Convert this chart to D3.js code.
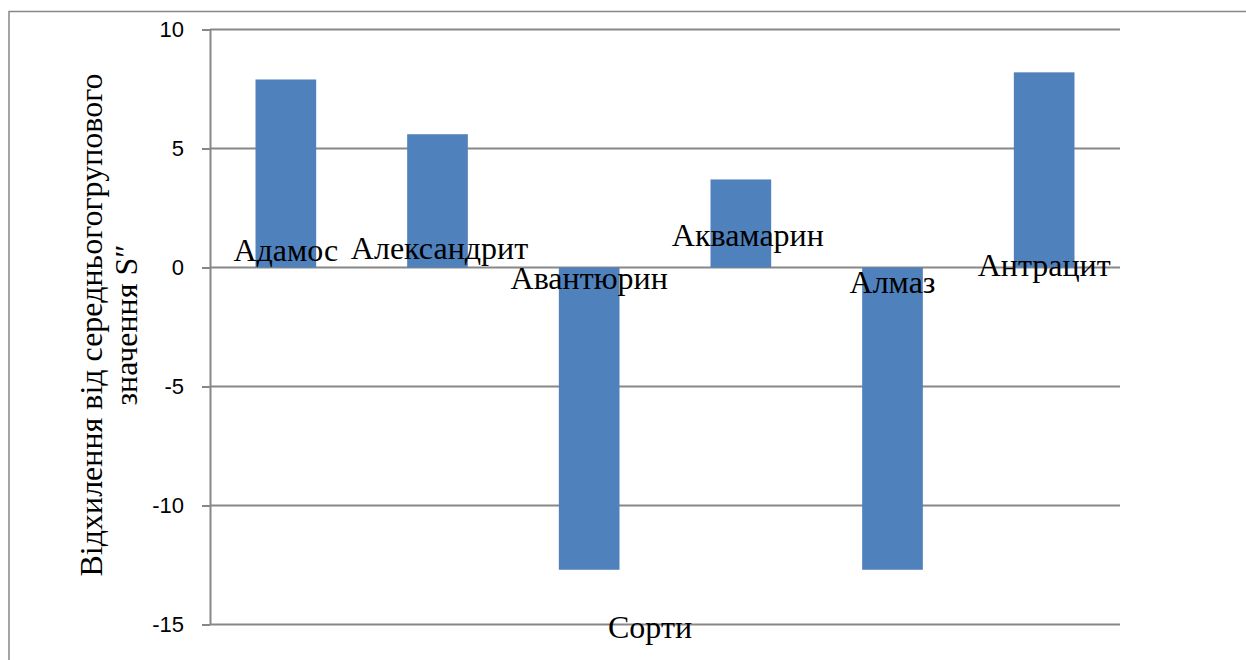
<!DOCTYPE html>
<html>
<head>
<meta charset="utf-8">
<script src="https://cdn.jsdelivr.net/npm/d3@7"></script>
<style>
  html, body { margin: 0; padding: 0; background: #fff; }
  svg { display: block; }
</style>
</head>
<body>
<svg id="chart" width="1246" height="660"></svg>
<script>
// ---- data ----
const categories = ["Адамос", "Александрит", "Авантюрин", "Аквамарин", "Алмаз", "Антрацит"];
const values = [7.9, 5.6, -12.7, 3.7, -12.7, 8.2];
const yTicks = [-15, -10, -5, 0, 5, 10];
const yTitleLines = ["Відхилення від середньогогрупового", "значення S″"];
const xTitle = "Сорти";

// ---- label nudges (styling) ----
const labelDx = [0, 2, 0, 7, 0, 0];
const labelDy = [-7, -9, 21, -22, 25, 8];

const svg = d3.select("#chart");
const plotL = 210, plotR = 1120, plotT = 29.5, plotB = 624.5;

const x = d3.scaleBand().domain(categories).range([plotL, plotR])
  .paddingInner(0.6).paddingOuter(0.3);
const y = d3.scaleLinear().domain([-15, 10]).range([plotB, plotT]);

const grey = "#878787";
const serif = "'Liberation Serif', 'Times New Roman', serif";

// outer frame
svg.append("rect").attr("x", 9).attr("y", 11.5).attr("width", 1300).attr("height", 700)
  .attr("fill", "none").attr("stroke", grey).attr("stroke-width", 1.5);

// gridlines
svg.append("g").selectAll("line").data(yTicks).join("line")
  .attr("x1", plotL).attr("x2", plotR)
  .attr("y1", d => y(d)).attr("y2", d => y(d))
  .attr("stroke", grey).attr("stroke-width", 2);

// y axis + ticks
const yAxis = d3.axisLeft(y).tickValues(yTicks).tickSize(8).tickSizeOuter(0).tickPadding(18)
  .tickFormat(d => String(d));
const gAxis = svg.append("g").attr("transform", `translate(${plotL},0)`).call(yAxis);
gAxis.select(".domain").attr("stroke", grey).attr("stroke-width", 2);
gAxis.selectAll(".tick line").attr("stroke", grey).attr("stroke-width", 2);
gAxis.selectAll(".tick text")
  .attr("font-family", "'Liberation Sans', Arial, sans-serif")
  .attr("font-size", 22).attr("fill", "#000");

// bars
svg.append("g").selectAll("rect").data(values).join("rect")
  .attr("x", (d, i) => x(categories[i]))
  .attr("width", x.bandwidth())
  .attr("y", d => y(Math.max(0, d)))
  .attr("height", d => Math.abs(y(d) - y(0)))
  .attr("fill", "#4F81BD");

// data labels (category names)
svg.append("g").selectAll("text").data(categories).join("text")
  .attr("x", (d, i) => x(d) + x.bandwidth() / 2 + labelDx[i])
  .attr("y", (d, i) => y(0) + labelDy[i])
  .attr("text-anchor", "middle")
  .attr("font-family", serif)
  .attr("font-size", 32).attr("fill", "#000")
  .text(d => d);

// x title
svg.append("text")
  .attr("x", (plotL + plotR) / 2 - 15).attr("y", 638)
  .attr("text-anchor", "middle")
  .attr("font-family", serif)
  .attr("font-size", 32).attr("fill", "#000")
  .text(xTitle);

// y title
const yt = svg.append("text")
  .attr("transform", `translate(102,325) rotate(-90)`)
  .attr("text-anchor", "middle")
  .attr("font-family", serif)
  .attr("font-size", 32).attr("fill", "#000");
yTitleLines.forEach((t, i) => {
  yt.append("tspan").attr("x", 0).attr("dy", i === 0 ? 0 : 35).text(t);
});
</script>
</body>
</html>
